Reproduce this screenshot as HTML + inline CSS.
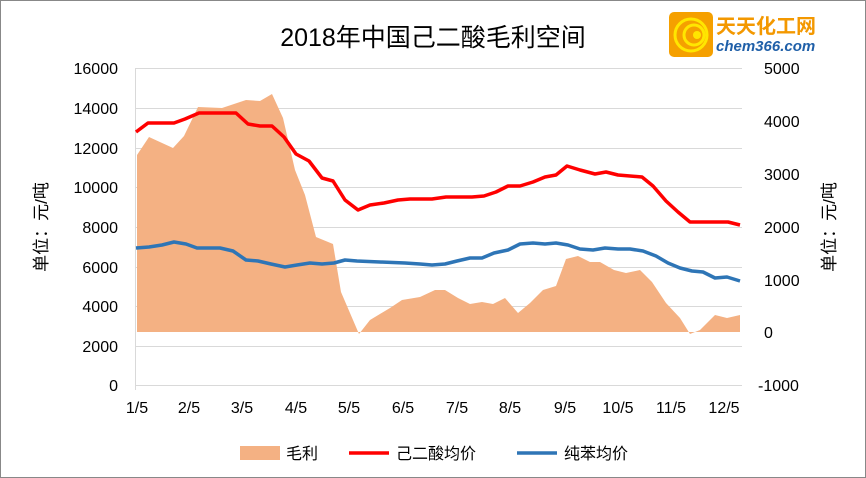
<!DOCTYPE html>
<html><head><meta charset="utf-8"><style>
body{margin:0;background:#fff}
svg{display:block;font-family:"Liberation Sans","Noto Sans CJK SC",sans-serif}
</style></head><body>
<svg width="866" height="478" viewBox="0 0 866 478">
<rect x="0.5" y="0.5" width="865" height="477" fill="#fff" stroke="#888"/>
<g stroke="#d9d9d9" stroke-width="1">
<line x1="135" y1="68.5" x2="742" y2="68.5"/><line x1="135" y1="108.5" x2="742" y2="108.5"/>
<line x1="135" y1="148.5" x2="742" y2="148.5"/><line x1="135" y1="187.5" x2="742" y2="187.5"/>
<line x1="135" y1="227.5" x2="742" y2="227.5"/><line x1="135" y1="267.5" x2="742" y2="267.5"/>
<line x1="135" y1="306.5" x2="742" y2="306.5"/><line x1="135" y1="346.5" x2="742" y2="346.5"/>
<line x1="135" y1="385.5" x2="742" y2="385.5"/>
<line x1="135.5" y1="68" x2="135.5" y2="390"/>
</g>
<polygon fill="#f4b183" points="137,332 137,155 149,137 173,148 184,136 198,107 222,108 234,104 246,100 260,101 272,94 283,118 295,170 305,195 316,237 333,244 341,292 359,334 370,320 390,308 402,300 414,298 420,297 435,290 445,290 458,298 470,304 482,302 493,304 505,298 518,313 530,303 543,290 556,286 566,259 578,256 590,262 600,262 614,270 626,273 640,270 652,282 666,303 680,318 690,334 700,330 715,315 727,318 740,315 740,332"/>
<polyline fill="none" stroke="#ff0000" stroke-width="3.5" stroke-linejoin="round" points="136,132 148,123 174,123 185,119 199,113 236,113 248,124 260,126 272,126 284,137 296,154 309,161 322,178 333,181 345,200 358,210 370,205 384,203 398,200 410,199 432,199 446,197 472,197 484,196 496,192 508,186 520,186 533,182 545,177 556,175 567,166 580,170 595,174 606,172 618,175 642,177 653,186 666,201 678,212 690,222 715,222 728,222 740,225"/>
<polyline fill="none" stroke="#2e75b6" stroke-width="3.5" stroke-linejoin="round" points="136,248 149,247 162,245 174,242 186,244 197,248 220,248 233,251 246,260 258,261 271,264 285,267 297,265 310,263 322,264 334,263 345,260 357,261 380,262 405,263 420,264 432,265 445,264 457,261 470,258 482,258 494,253 508,250 520,244 533,243 545,244 556,243 568,245 580,249 593,250 605,248 618,249 630,249 643,251 656,256 668,263 680,268 692,271 703,272 715,278 727,277 740,281"/>
<text x="433" y="46" font-size="25" text-anchor="middle" fill="#000">2018年中国己二酸毛利空间</text>
<g font-size="16" fill="#000" text-anchor="end">
<text x="118" y="74">16000</text><text x="118" y="114">14000</text><text x="118" y="154">12000</text>
<text x="118" y="193">10000</text><text x="118" y="233">8000</text><text x="118" y="273">6000</text>
<text x="118" y="312">4000</text><text x="118" y="352">2000</text><text x="118" y="391">0</text>
</g>
<g font-size="16" fill="#000" text-anchor="start">
<text x="764" y="74">5000</text><text x="764" y="127">4000</text><text x="764" y="180">3000</text>
<text x="764" y="233">2000</text><text x="764" y="286">1000</text><text x="764" y="338">0</text>
<text x="758" y="391">-1000</text>
</g>
<g font-size="16" fill="#000" text-anchor="middle">
<text x="137" y="413">1/5</text><text x="189" y="413">2/5</text><text x="242" y="413">3/5</text>
<text x="296" y="413">4/5</text><text x="349" y="413">5/5</text><text x="403" y="413">6/5</text>
<text x="457" y="413">7/5</text><text x="510" y="413">8/5</text><text x="565" y="413">9/5</text>
<text x="618" y="413">10/5</text><text x="671" y="413">11/5</text><text x="724" y="413">12/5</text>
</g>
<text transform="translate(47,227) rotate(-90)" font-size="17" text-anchor="middle">单位：元/吨</text>
<text transform="translate(835,227) rotate(-90)" font-size="17" text-anchor="middle">单位：元/吨</text>
<rect x="240" y="446" width="40" height="14" fill="#f4b183"/>
<text x="286" y="459" font-size="16">毛利</text>
<line x1="349" y1="453" x2="389" y2="453" stroke="#ff0000" stroke-width="3.5"/>
<text x="396" y="459" font-size="16">己二酸均价</text>
<line x1="517" y1="453" x2="557" y2="453" stroke="#2e75b6" stroke-width="3.5"/>
<text x="564" y="459" font-size="16">纯苯均价</text>
<rect x="669" y="12" width="44" height="45" rx="5" fill="#f5a000"/>
<circle cx="691" cy="35" r="16" fill="none" stroke="#ffe600" stroke-width="3"/>
<circle cx="694" cy="35" r="10" fill="none" stroke="#ffe600" stroke-width="3"/>
<circle cx="697" cy="35" r="4" fill="#ffe600"/>
<text x="716" y="33" font-size="20" font-weight="bold" fill="#f39800">天天化工网</text>
<text x="716" y="51" font-size="15" font-weight="bold" font-style="italic" fill="#1f5fa8">chem366.com</text>
</svg>
</body></html>
